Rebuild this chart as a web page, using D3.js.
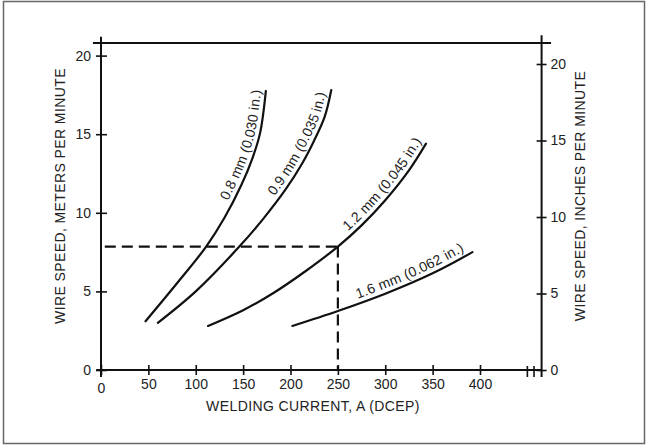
<!DOCTYPE html>
<html>
<head>
<meta charset="utf-8">
<script src="https://cdn.jsdelivr.net/npm/d3@7"></script>
<style>
  body { margin: 0; background: #fff; }
  svg { display: block; font-family: "Liberation Sans", Arial, sans-serif; }
</style>
</head>
<body>
<div id="app"></div>
<script>
// wire diameters and the curves (current in A, speed in m/min)
const wireLabels = ['0.8 mm (0.030 in.)', '0.9 mm (0.035 in.)', '1.2 mm (0.045 in.)', '1.6 mm (0.062 in.)'];
const current08 = [47, 80, 111, 130, 148, 160, 168, 174];
const speed08 = [3.1, 5.5, 7.85, 9.65, 11.75, 13.5, 15.1, 17.75];
const current09 = [60, 100, 146, 171, 195, 212, 225, 236, 243];
const speed09 = [3.0, 5.0, 7.85, 9.6, 11.5, 13.1, 14.6, 16.1, 17.8];
const current12 = [113, 150, 182, 215, 250, 275, 300, 325, 343];
const speed12 = [2.8, 3.8, 4.9, 6.25, 7.85, 9.2, 10.8, 12.7, 14.4];
const current16 = [202, 250, 300, 350, 392];
const speed16 = [2.8, 3.75, 4.85, 6.15, 7.5];

// worked example (dashed lines)
const refCurrent = 250;
const refSpeed = 7.85;

// ticks
const xTicks = [0, 50, 100, 150, 200, 250, 300, 350, 400];
const breakTicks = [450, 457];
const leftTicks = [0, 5, 10, 15, 20];
const rightTicks = [0, 5, 10, 15, 20];

const xTitle = 'WELDING CURRENT, A (DCEP)';
const leftTitle = 'WIRE SPEED, METERS PER MINUTE';
const rightTitle = 'WIRE SPEED, INCHES PER MINUTE';

const WIDTH = 649, HEIGHT = 446;
const INK = '#111';

const series = [
  { cur: current08, spd: speed08, gap: 0 },
  { cur: current09, spd: speed09, gap: 4 },
  { cur: current12, spd: speed12, gap: 0 },
  { cur: current16, spd: speed16, gap: 6 }
].map((s, i) => ({ label: wireLabels[i], gap: s.gap, pts: s.cur.map((c, j) => [c, s.spd[j]]) }));

const svg = d3.select('#app')
  .append('svg')
    .attr('width', WIDTH)
    .attr('height', HEIGHT);

// outer frame
svg.append('rect')
  .attr('x', 3.5).attr('y', 1.5)
  .attr('width', 641).attr('height', 442)
  .attr('fill', 'none')
  .attr('stroke', '#666')
  .attr('stroke-width', 1.5);

const x = d3.scaleLinear().domain([0, 400]).range([101, 480]);
const yL = d3.scaleLinear().domain([0, 20]).range([370, 55.6]);
const yR = d3.scaleLinear().domain([0, 20]).range([370, 64]);

const xRight = x(465);

// frame lines: left axis, right axis, top line, bottom axis
const frame = svg.append('g').attr('stroke', INK).attr('stroke-width', 2).attr('fill', 'none');
frame.append('line').attr('x1', x(0)).attr('x2', x(0)).attr('y1', yL(21.2)).attr('y2', yL(-0.45));
frame.append('line').attr('x1', xRight).attr('x2', xRight).attr('y1', yL(21.3)).attr('y2', yL(-0.45));
frame.append('line').attr('x1', x(-8.5)).attr('x2', x(475)).attr('y1', yL(20.8)).attr('y2', yL(20.8));
frame.append('line').attr('x1', x(-5)).attr('x2', xRight).attr('y1', yL(0)).attr('y2', yL(0));

function styleAxis(g) {
  g.select('.domain').remove();
  g.selectAll('line').attr('stroke', INK).attr('stroke-width', 1.6);
  g.selectAll('text').attr('fill', '#222').style('font-size', '14px');
}

// left axis
svg.append('g')
  .attr('transform', `translate(${x(0)},0)`)
  .call(d3.axisLeft(yL).tickValues(leftTicks).tickSize(5).tickPadding(5))
  .call(styleAxis)
  .call(g => g.selectAll('line').attr('x1', 6));

// right axis
svg.append('g')
  .attr('transform', `translate(${xRight},0)`)
  .call(d3.axisRight(yR).tickValues(rightTicks).tickSize(5).tickPadding(4))
  .call(styleAxis)
  .call(g => g.selectAll('line').attr('x1', -5));

// bottom axis
svg.append('g')
  .attr('transform', `translate(0,${yL(0)})`)
  .call(d3.axisBottom(x).tickValues(xTicks).tickSize(5).tickPadding(4))
  .call(styleAxis)
  .call(g => g.selectAll('line').attr('y1', -5))
  .call(g => g.selectAll('.tick').filter(d => d === 0).select('text').attr('dy', '1.0em'));

// break marks near the right end of the current axis
svg.append('g')
  .selectAll('line')
  .data(breakTicks)
  .enter()
  .append('line')
    .attr('x1', d => x(d)).attr('x2', d => x(d))
    .attr('y1', yL(0) - 4).attr('y2', yL(0) + 7)
    .attr('stroke', INK)
    .attr('stroke-width', 1.6);

// dashed reading lines
const dash = svg.append('g')
  .attr('stroke', INK)
  .attr('stroke-width', 2.2)
  .attr('stroke-dasharray', '11,6')
  .attr('fill', 'none');
dash.append('line')
  .attr('x1', x(4)).attr('x2', x(refCurrent))
  .attr('y1', yL(refSpeed)).attr('y2', yL(refSpeed));
dash.append('line')
  .attr('x1', x(refCurrent)).attr('x2', x(refCurrent))
  .attr('y1', yL(refSpeed)).attr('y2', yL(0));

// curves
const line = d3.line()
  .x(d => x(d[0]))
  .y(d => yL(d[1]))
  .curve(d3.curveCatmullRom.alpha(0.5));

const curves = svg.append('g');
curves.selectAll('path')
  .data(series)
  .enter()
  .append('path')
    .attr('id', (d, i) => 'wire' + i)
    .attr('d', d => line(d.pts))
    .attr('fill', 'none')
    .attr('stroke', INK)
    .attr('stroke-width', 2.2)
    .attr('stroke-linecap', 'round');

// labels riding along each curve
curves.selectAll('text')
  .data(series)
  .enter()
  .append('text')
    .attr('dy', -5)
    .style('font-size', '14px')
    .style('letter-spacing', '0.25px')
    .attr('fill', '#222')
    .append('textPath')
      .attr('href', (d, i) => '#wire' + i)
      .attr('text-anchor', 'end')
      .attr('startOffset', (d, i) => {
        const len = document.getElementById('wire' + i).getTotalLength();
        return len - d.gap;
      })
      .text(d => d.label);

// axis titles
const titleStyle = t => t
  .attr('text-anchor', 'middle')
  .style('font-size', '14px')
  .style('letter-spacing', '0.4px')
  .attr('fill', '#222');

svg.append('text')
  .attr('x', 313).attr('y', 411)
  .call(titleStyle)
  .text(xTitle);

svg.append('text')
  .attr('transform', 'translate(65,196) rotate(-90)')
  .call(titleStyle)
  .text(leftTitle);

svg.append('text')
  .attr('transform', 'translate(585,196) rotate(-90)')
  .call(titleStyle)
  .text(rightTitle);
</script>
</body>
</html>
